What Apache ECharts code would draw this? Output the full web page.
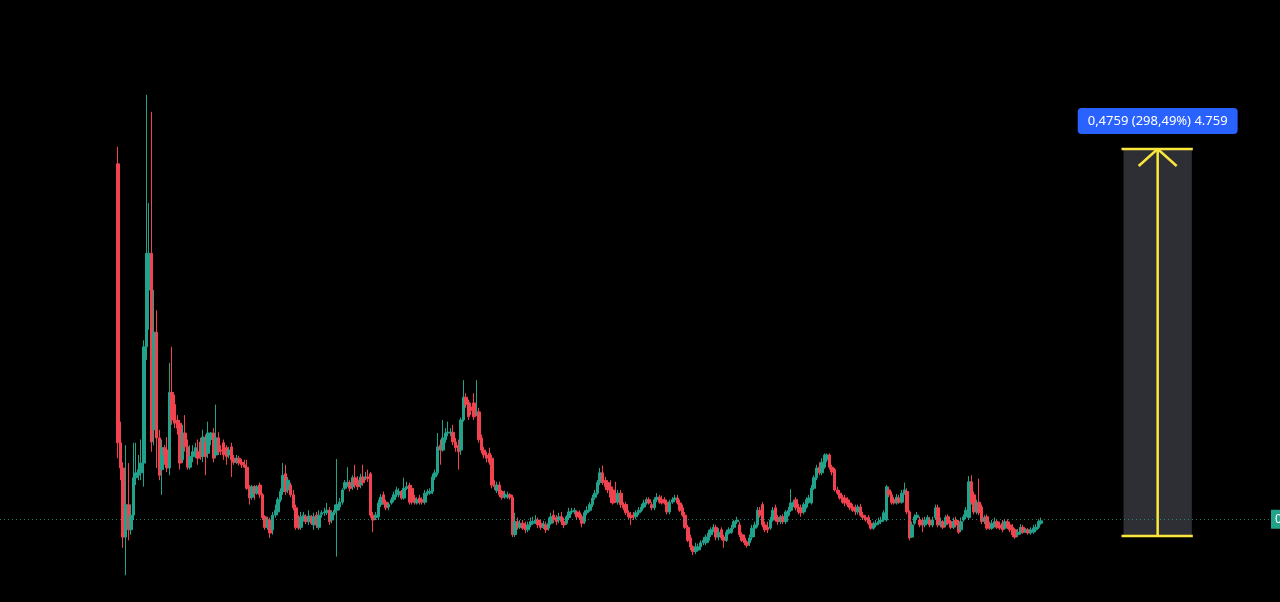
<!DOCTYPE html>
<html><head><meta charset="utf-8">
<script src="https://cdn.jsdelivr.net/npm/echarts@6/dist/echarts.min.js"></script>
<style>html,body{margin:0;padding:0;background:#000;overflow:hidden}#c{width:1280px;height:602px}</style>
</head><body><div id="c"></div>
<script>
// OHLC bars: [open, close, low, high]
const launchBars = [
[.617,.274,.255,.638],[.274,.243,.228,.300],[.243,.158,.145,.250],[.158,.198,.111,.271],[.198,.167,.154,.249],
[.167,.185,.161,.198],[.185,.231,.179,.274],[.231,.237,.222,.274],[.234,.241,.228,.259],[.237,.249,.228,.278],
[.249,.392,.220,.400],[.392,.507,.376,.702],[.462,.507,.413,.569],[.507,.275,.263,.681],[.290,.410,.271,.462],
[.410,.280,.243,.437],[.280,.234,.228,.290],[.241,.268,.210,.278],[.268,.259,.247,.271],[.265,.243,.238,.281],
[.243,.336,.234,.372],[.336,.302,.296,.392],[.321,.298,.292,.333],[.302,.292,.284,.308],[.298,.249,.241,.302],
[.253,.286,.249,.296],[.286,.269,.263,.308],[.269,.244,.241,.278],[.244,.257,.241,.271],[.257,.263,.250,.271],
[.263,.268,.255,.274],[.263,.255,.247,.278],[.275,.257,.253,.280],[.257,.281,.250,.290]
];
const rangeBars = [
[.274,.257,.234,.284],[.261,.286,.255,.300],[.278,.286,.271,.287],[.286,.255,.250,.292],[.259,.280,.255,.321],
[.280,.263,.259,.287],[.265,.264,.259,.271],[.274,.259,.253,.278],[.268,.257,.247,.271],[.259,.265,.255,.269],
[.269,.253,.232,.274],[.255,.250,.247,.259],[.250,.255,.248,.259],[.255,.249,.246,.258],[.250,.247,.243,.254],
[.247,.244,.243,.253],[.244,.218,.216,.253],[.220,.206,.198,.222],[.207,.220,.204,.222],[.220,.212,.204,.222],
[.212,.220,.210,.222],[.222,.210,.206,.225],[.210,.182,.179,.212],[.183,.170,.167,.185],[.170,.179,.167,.183],
[.179,.163,.157,.182],[.167,.185,.161,.189],[.185,.191,.182,.198],[.189,.204,.185,.207],[.204,.214,.201,.218],
[.214,.234,.210,.249],[.236,.214,.210,.247],[.216,.228,.212,.232],[.222,.210,.207,.225],[.210,.194,.191,.216],
[.194,.170,.167,.198],[.182,.169,.167,.185],[.170,.183,.167,.189],[.179,.185,.177,.189],[.183,.177,.174,.186],
[.177,.184,.173,.191],[.183,.175,.173,.185],[.173,.183,.167,.188],[.185,.173,.169,.189],[.170,.185,.167,.191],
[.186,.188,.182,.191],[.188,.189,.184,.194],[.188,.191,.185,.200],[.191,.177,.173,.195],[.179,.188,.175,.191],
[.188,.191,.185,.198],[.191,.198,.134,.254],[.195,.201,.191,.206],[.201,.216,.198,.218],[.218,.225,.216,.228],
[.222,.225,.220,.244],[.225,.218,.214,.228],[.220,.231,.216,.234],[.231,.222,.218,.247],[.228,.220,.216,.233],
[.222,.232,.218,.236],[.232,.225,.221,.247],[.231,.232,.228,.238],[.232,.230,.226,.241],[.236,.185,.182,.238],
[.185,.179,.164,.189],[.182,.185,.179,.189],[.183,.200,.179,.204],[.198,.207,.195,.211],[.210,.201,.198,.214],
[.201,.194,.191,.204],[.195,.198,.191,.201],[.200,.204,.198,.207],[.204,.210,.201,.214],[.210,.216,.207,.220]
];
const pumpBars = [
[.210,.214,.207,.218],[.214,.206,.204,.216],[.206,.218,.204,.231],[.218,.220,.216,.226],[.222,.201,.198,.225],
[.218,.201,.198,.222],[.206,.201,.198,.210],[.200,.204,.198,.207],[.206,.201,.198,.210],[.204,.201,.198,.207],
[.201,.212,.198,.216],[.212,.214,.209,.217],[.212,.214,.210,.218],[.214,.232,.211,.236],[.232,.237,.228,.241],
[.237,.269,.234,.286],[.271,.265,.247,.278],[.265,.280,.263,.302],[.278,.286,.274,.292],[.286,.287,.282,.300],
[.286,.287,.282,.292],[.287,.275,.271,.296],[.275,.268,.263,.280],[.271,.263,.241,.278],[.265,.302,.259,.305],
[.302,.330,.300,.351],[.330,.321,.317,.335],[.324,.306,.302,.327],[.318,.314,.308,.323],[.323,.306,.302,.335],
[.311,.312,.307,.351],[.312,.278,.274,.317],[.280,.265,.261,.284],[.265,.259,.255,.269],[.259,.255,.250,.263],
[.261,.250,.247,.268],[.255,.222,.218,.259],[.222,.220,.216,.228],[.215,.222,.212,.226],[.222,.210,.207,.226],
[.214,.207,.204,.216],[.207,.211,.205,.215],[.207,.210,.205,.214],[.210,.207,.204,.212],[.207,.161,.158,.210],
[.161,.177,.158,.188],[.177,.170,.167,.182],[.170,.175,.168,.179],[.175,.169,.167,.179],[.173,.167,.163,.177],
[.167,.173,.164,.177],[.173,.177,.170,.182],[.175,.177,.173,.183],[.177,.179,.174,.185],[.179,.173,.169,.182],
[.175,.170,.167,.179],[.170,.174,.168,.178],[.173,.167,.163,.177],[.169,.175,.166,.182],[.175,.183,.173,.188],
[.185,.179,.175,.191],[.182,.177,.173,.185],[.179,.183,.175,.188],[.183,.177,.173,.189],[.177,.173,.169,.182],
[.175,.183,.173,.185],[.182,.189,.179,.194],[.189,.190,.186,.194],[.189,.191,.186,.194],[.189,.183,.179,.191],
[.188,.182,.179,.191],[.183,.175,.170,.186],[.177,.188,.174,.191],[.188,.191,.185,.196],[.191,.198,.189,.201],
[.198,.206,.195,.210],[.207,.212,.204,.216],[.212,.225,.210,.228]
];
const midBars = [
[.225,.237,.222,.243],[.237,.225,.222,.246],[.228,.220,.216,.232],[.225,.216,.212,.228],[.220,.207,.200,.228],
[.216,.200,.198,.220],[.210,.204,.200,.226],[.201,.212,.198,.216],[.212,.198,.194,.216],[.198,.194,.191,.201],
[.198,.188,.185,.201],[.188,.183,.180,.191],[.185,.182,.173,.189],[.185,.183,.179,.189],[.183,.188,.180,.191],
[.188,.191,.185,.195],[.191,.195,.189,.199],[.195,.200,.193,.204],[.200,.204,.198,.207],[.204,.200,.198,.207],
[.198,.194,.191,.201],[.194,.204,.191,.207],[.204,.207,.201,.212],[.207,.201,.199,.210],[.204,.200,.198,.209],
[.204,.200,.198,.207],[.201,.189,.186,.204],[.189,.201,.186,.204],[.201,.204,.199,.207],[.204,.206,.201,.210],
[.206,.200,.198,.210],[.200,.191,.189,.204],[.194,.185,.183,.198],[.185,.170,.168,.189],[.170,.154,.152,.173],
[.157,.146,.142,.161],[.146,.140,.136,.148],[.140,.146,.137,.151],[.142,.146,.140,.150],[.146,.151,.142,.154],
[.151,.154,.148,.158],[.151,.158,.148,.161],[.154,.163,.151,.167],[.161,.167,.158,.170],[.167,.170,.164,.174],
[.170,.158,.154,.173],[.158,.164,.154,.169],[.167,.157,.154,.170],[.158,.154,.145,.161],[.154,.164,.152,.167],
[.163,.167,.161,.170],[.164,.169,.162,.173],[.170,.177,.168,.179],[.177,.179,.174,.183],[.173,.161,.158,.177],
[.161,.154,.152,.164],[.157,.151,.148,.161],[.152,.148,.145,.154],[.151,.157,.147,.161],[.158,.169,.154,.173],
[.169,.173,.158,.177],[.173,.191,.170,.195],[.191,.185,.182,.195],[.198,.173,.170,.201],[.173,.167,.164,.177],
[.170,.167,.163,.177],[.169,.179,.167,.183],[.179,.191,.177,.195],[.194,.179,.177,.198],[.182,.177,.173,.185],
[.177,.183,.174,.185],[.183,.177,.174,.186],[.177,.189,.174,.191],[.185,.191,.183,.195],[.191,.200,.189,.217],
[.198,.201,.195,.204],[.204,.194,.191,.207],[.195,.189,.186,.199],[.194,.188,.183,.198],[.189,.198,.186,.201],
[.195,.204,.193,.207],[.201,.206,.199,.210],[.200,.218,.198,.222],[.218,.231,.216,.234],[.231,.243,.228,.247],
[.244,.237,.234,.250],[.237,.250,.234,.255],[.244,.259,.242,.261],[.253,.259,.250,.261],[.259,.244,.241,.261],
[.244,.238,.234,.247],[.241,.216,.214,.243],[.216,.212,.210,.220],[.212,.206,.204,.216],[.207,.201,.199,.210],
[.206,.200,.196,.210],[.204,.198,.195,.207],[.200,.194,.191,.204],[.195,.191,.189,.199],[.194,.189,.185,.198],
[.189,.195,.186,.198],[.195,.185,.183,.199],[.185,.182,.179,.189],[.182,.179,.177,.185],[.182,.175,.173,.185],
[.175,.169,.167,.179],[.169,.173,.167,.177],[.173,.175,.170,.179],[.175,.177,.173,.182]
];
const lateBars = [
[.177,.179,.174,.183],[.179,.188,.177,.191],[.179,.220,.177,.222],[.216,.210,.207,.220],[.210,.201,.198,.214],
[.204,.200,.198,.207],[.200,.207,.198,.211],[.206,.201,.199,.210],[.201,.212,.199,.216],[.212,.216,.210,.225],
[.214,.189,.186,.218],[.189,.157,.154,.191],[.158,.173,.157,.177],[.175,.183,.173,.186],[.182,.185,.179,.189],
[.179,.173,.170,.183],[.177,.173,.164,.182],[.173,.179,.170,.183],[.177,.182,.174,.185],[.179,.173,.170,.183],
[.173,.179,.170,.183],[.182,.194,.179,.198],[.194,.173,.170,.198],[.173,.177,.170,.182],[.177,.170,.168,.179],
[.173,.182,.170,.185],[.183,.175,.173,.186],[.177,.170,.168,.179],[.170,.177,.168,.182],[.179,.173,.170,.183],
[.175,.164,.162,.179],[.167,.177,.164,.182],[.179,.183,.177,.186],[.183,.191,.180,.195],[.182,.226,.179,.233],
[.226,.201,.198,.234],[.210,.189,.186,.214],[.189,.200,.186,.204],[.201,.188,.185,.230],[.195,.177,.174,.198],
[.177,.182,.174,.185],[.183,.169,.167,.186],[.173,.169,.167,.177],[.169,.175,.167,.179],[.173,.177,.170,.182],
[.177,.170,.168,.180],[.173,.169,.167,.177],[.175,.167,.164,.179],[.169,.177,.167,.180],[.177,.170,.168,.180],
[.173,.167,.164,.177],[.170,.161,.158,.174],[.167,.158,.156,.169],[.161,.164,.158,.168],[.163,.170,.161,.174],
[.170,.164,.162,.173],[.164,.167,.163,.169],[.167,.163,.161,.169],[.163,.167,.161,.170],[.164,.169,.162,.173],
[.167,.170,.164,.174],[.170,.177,.168,.180],[.175,.178,.173,.182]
];
// Price-range measurement (bar index span, price span) and its label
const measureBars = [390, 416.5];
const measurePrices = [0.1594, 0.6353];
const measureLabel = '0,4759 (298,49%) 4.759';

const bars = launchBars.concat(rangeBars, pumpBars, midBars, lateBars);
const N = bars.length;
const lastClose = bars[N - 1][1];

// layout of the visible window
const firstPx = 118, lastPx = 1041, gridW = 1270;
const step = (lastPx - firstPx) / (N - 1);
const xMin = -firstPx / step, xMax = xMin + gridW / step;
const yMin = 0.0782, yMax = 0.8185;

const UP = '#22a18b', DOWN = '#f0434f', YEL = '#fbe63c';

const chart = echarts.init(document.getElementById('c'), null, {renderer: 'canvas'});
chart.setOption({
  backgroundColor: '#000',
  animation: false,
  grid: {left: 0, right: 10, top: 0, bottom: 0},
  xAxis: {type: 'value', min: xMin, max: xMax, show: false},
  yAxis: {type: 'value', min: yMin, max: yMax, show: false, scale: true},
  series: [
    {
      type: 'custom',
      z: 1,
      silent: true,
      clip: false,
      encode: {x: [0, 1], y: [2, 3]},
      data: [[measureBars[0], measureBars[1], measurePrices[0], measurePrices[1]]],
      renderItem: function (params, api) {
        const lt = api.coord([api.value(0), api.value(3)]);
        const rb = api.coord([api.value(1), api.value(2)]);
        const l = lt[0], t = lt[1], r = rb[0], b = rb[1];
        const cx = (l + r) / 2;
        const ls = {stroke: YEL, lineWidth: 2.5};
        return {
          type: 'group',
          children: [
            {type: 'rect', shape: {x: l, y: t, width: r - l, height: b - t}, style: {fill: '#2e2f34'}},
            {type: 'line', shape: {x1: l - 2, y1: t, x2: r + 1, y2: t}, style: ls},
            {type: 'line', shape: {x1: l - 2, y1: b, x2: r + 1, y2: b}, style: ls},
            {type: 'line', shape: {x1: cx, y1: t, x2: cx, y2: b}, style: ls},
            {type: 'line', shape: {x1: cx, y1: t, x2: cx - 19, y2: t + 17}, style: ls},
            {type: 'line', shape: {x1: cx, y1: t, x2: cx + 19, y2: t + 17}, style: ls},
            {type: 'text', x: cx, y: t - 28, style: {
              text: measureLabel, fill: '#fff', font: '13px "Noto Sans", sans-serif',
              align: 'center', verticalAlign: 'middle', backgroundColor: '#2962ff',
              padding: [5, 10], borderRadius: 4, lineHeight: 16
            }}
          ]
        };
      }
    },
    {
      type: 'candlestick',
      z: 2,
      barWidth: 3,
      encode: {x: 0, y: [1, 2, 3, 4]},
      data: bars.map(function (b, i) { return [i, b[0], b[1], b[2], b[3]]; }),
      itemStyle: {color: UP, color0: DOWN, borderColor: UP, borderColor0: DOWN, borderWidth: 1},
      markLine: {
        silent: true,
        symbol: ['none', 'none'],
        data: [{yAxis: lastClose}],
        lineStyle: {color: 'rgba(34,161,139,0.75)', type: [1, 3], width: 1},
        label: {show: true, position: 'end', distance: 1, formatter: lastClose.toFixed(4),
          color: '#fff', backgroundColor: UP, padding: [4, 4, 3, 4], fontSize: 12, fontFamily: 'Noto Sans'}
      }
    }
  ]
});
</script></body></html>
